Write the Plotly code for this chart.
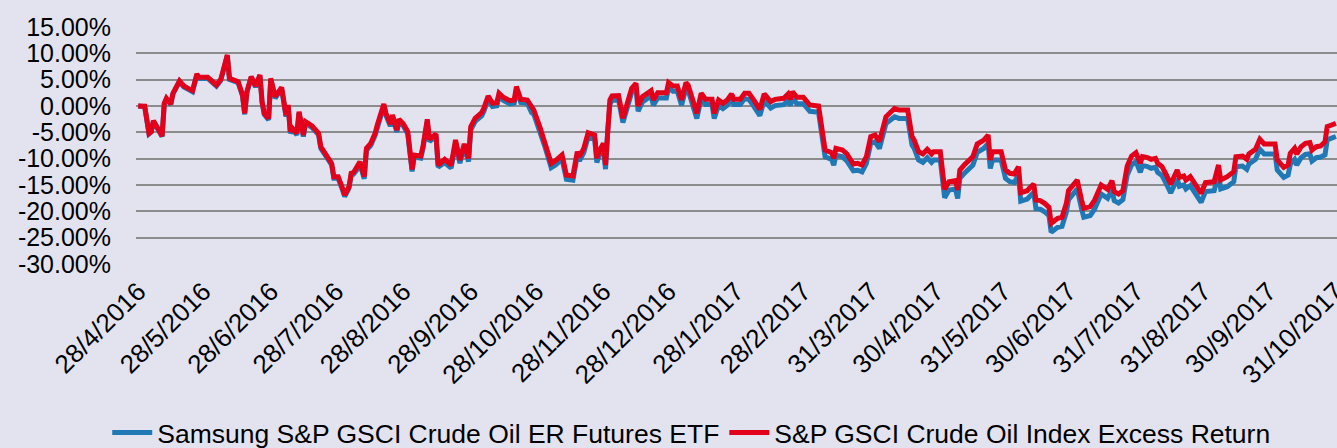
import pandas as pd
import plotly.graph_objects as go

start_date = "2016-04-28"

days_since_start = [
    0, 3, 5, 6, 7, 9, 11, 12, 13, 15, 16, 19, 21, 23, 25, 27, 28, 32, 34, 36, 38, 39, 41, 42, 44, 46, 48, 49, 50,
    52, 54, 56, 57, 58, 60, 61, 63, 64, 66, 68, 69, 70, 71, 73, 74, 76, 77, 80, 82, 83, 84, 87, 89, 90, 92, 94,
    95, 97, 98, 99, 101, 102, 104, 105, 107, 109, 110, 113, 114, 116, 117, 119, 120, 122, 124, 125, 126, 127,
    130, 131, 133, 134, 137, 138, 140, 141, 144, 146, 148, 150, 152, 153, 155, 158, 159, 161, 163, 165, 166,
    168, 171, 173, 174, 176, 179, 181, 182, 185, 187, 190, 192, 195, 197, 200, 202, 203, 205, 207, 210, 211,
    212, 214, 215, 216, 217, 218, 221, 223, 225, 227, 229, 230, 232, 234, 236, 237, 239, 243, 244, 246, 248,
    250, 252, 253, 255, 257, 259, 261, 264, 265, 267, 269, 271, 273, 274, 277, 279, 281, 283, 286, 288, 291,
    293, 297, 299, 300, 301, 303, 306, 308, 309, 313, 315, 316, 319, 320, 321, 324, 326, 329, 331, 333, 335,
    337, 339, 341, 343, 344, 348, 350, 354, 356, 357, 359, 361, 363, 365, 366, 369, 370, 371, 373, 376, 377,
    378, 380, 383, 384, 386, 389, 391, 392, 393, 397, 399, 401, 403, 405, 406, 409, 410, 412, 413, 415, 417,
    419, 420, 423, 425, 427, 428, 431, 432, 434, 435, 438, 440, 443, 445, 446, 448, 449, 451, 453, 455, 457,
    459, 461, 462, 464, 466, 468, 469, 471, 473, 475, 478, 479, 481, 482, 484, 487, 489, 491, 493, 495, 497,
    498, 501, 504, 505, 508, 510, 511, 514, 516, 518, 523, 524, 527, 529, 530, 532, 533, 535, 537, 539, 540,
    542, 544, 546, 547, 549, 551,
]

index_er = [
    0.00, -0.05, -5.19, -4.87, -2.78, -4.24, -5.70, 0.51, 1.46, 0.38, 2.41, 4.75, 3.80, 3.35, 2.91, 6.08, 5.44,
    5.44, 4.81, 3.99, 5.06, 6.52, 9.68, 5.25, 4.94, 4.62, 2.09, -1.39, 2.72, 5.57, 3.80, 5.89, 0.82, -1.39,
    -2.34, 5.25, 1.77, 2.41, 3.54, -1.71, 0.19, -4.87, -4.24, -5.19, -1.08, -5.51, -2.97, -3.80, -4.87, -5.19,
    -7.72, -9.62, -10.89, -13.42, -13.42, -15.63, -16.90, -15.32, -12.78, -12.66, -11.52, -10.57, -13.42,
    -8.04, -7.09, -5.19, -3.61, 0.38, -1.39, -3.42, -1.71, -4.56, -2.53, -3.42, -4.87, -8.99, -12.03, -9.30,
    -9.49, -7.72, -2.53, -6.33, -5.32, -11.20, -10.25, -10.13, -11.20, -6.46, -10.25, -7.22, -9.94, -3.92,
    -2.34, -1.27, -0.44, 1.90, 0.51, 0.63, 2.41, 1.65, 1.01, 1.14, 3.67, 1.27, 1.14, -0.44, -0.76, -4.24,
    -6.77, -10.89, -10.38, -9.30, -13.10, -13.29, -8.67, -9.62, -8.04, -5.06, -5.51, -9.94, -8.67, -7.09,
    -11.20, -3.92, 1.14, 1.90, 1.96, -2.34, 0.82, 3.35, 4.30, 0.00, 1.77, 2.41, 2.91, 1.14, 2.53, 2.53, 4.43,
    3.80, 3.80, 1.14, 4.43, 3.99, 1.14, -1.39, 2.41, 1.27, 1.27, -1.39, 1.14, 0.51, 1.14, 2.28, 1.27, 1.27,
    2.41, 2.41, 1.27, -0.63, 2.28, 0.82, 1.27, 1.46, 2.28, 1.27, 2.72, 1.65, 1.65, 0.82, 0.19, 0.00, -5.51,
    -8.35, -8.86, -9.94, -8.04, -8.35, -9.11, -11.01, -10.89, -11.20, -9.62, -5.82, -5.51, -6.77, -3.61,
    -2.03, -0.44, -0.76, -0.76, -5.82, -6.46, -8.67, -9.11, -8.23, -9.11, -8.67, -8.67, -11.84, -15.82,
    -14.37, -14.18, -15.95, -12.15, -11.20, -10.13, -9.62, -7.22, -6.46, -5.51, -10.25, -8.67, -8.67, -12.15,
    -12.78, -12.91, -11.52, -16.46, -16.08, -15.63, -14.81, -17.85, -17.97, -18.48, -19.24, -22.28, -21.33,
    -21.14, -18.48, -16.08, -14.37, -14.05, -17.85, -19.43, -19.11, -17.85, -15.00, -15.44, -15.82, -14.18,
    -16.27, -16.71, -16.08, -11.39, -9.49, -8.86, -10.89, -9.62, -9.75, -10.13, -9.94, -10.89, -11.52,
    -13.10, -14.81, -12.15, -13.54, -13.29, -14.05, -13.42, -15.32, -16.58, -14.56, -14.37, -14.37, -11.20,
    -14.05, -13.42, -12.47, -9.62, -9.49, -10.13, -9.11, -8.23, -6.33, -7.22, -7.22, -10.25, -11.65, -11.20,
    -8.99, -8.04, -9.11, -7.72, -7.09, -6.96, -8.35, -7.72, -7.59, -6.77, -3.92, -3.61, -3.29,
]

samsung_etf = [
    0.00, -0.15, -5.29, -4.97, -2.88, -4.34, -5.80, 0.41, 1.36, 0.28, 2.31, 4.65, 3.60, 3.15, 2.71, 5.88, 5.24,
    5.24, 4.61, 3.79, 4.86, 6.32, 9.48, 5.05, 4.74, 4.42, 1.89, -1.59, 2.52, 5.37, 3.60, 5.69, 0.62, -1.59,
    -2.64, 4.95, 1.47, 2.11, 3.24, -2.01, -0.11, -5.17, -4.54, -5.49, -1.38, -5.81, -3.27, -4.10, -5.17, -5.49,
    -8.02, -9.92, -11.19, -13.72, -13.72, -15.93, -17.20, -15.62, -13.08, -12.96, -11.92, -10.97, -13.82,
    -8.44, -7.49, -5.59, -4.01, -0.02, -1.79, -3.82, -2.11, -4.96, -2.93, -3.82, -5.27, -9.39, -12.43, -9.70,
    -9.89, -8.12, -2.93, -6.73, -5.72, -11.60, -10.85, -10.73, -11.80, -7.06, -10.85, -7.82, -10.54, -4.52,
    -2.94, -1.87, -1.04, 1.30, -0.09, 0.03, 1.81, 1.05, 0.41, 0.54, 3.07, 0.67, 0.54, -1.24, -1.56, -5.04,
    -7.57, -11.69, -11.18, -10.10, -13.90, -14.09, -9.47, -10.42, -8.84, -5.86, -6.31, -10.74, -9.47, -7.89,
    -12.00, -4.72, 0.34, 1.10, 1.16, -3.14, 0.02, 2.55, 3.50, -1.00, 0.77, 1.41, 1.91, 0.14, 1.53, 1.53, 3.43,
    2.80, 2.80, 0.14, 3.43, 2.99, 0.14, -2.39, 1.41, 0.27, 0.27, -2.39, 0.14, -0.49, 0.14, 1.28, 0.27, 0.27,
    1.41, 1.21, 0.07, -1.83, 1.08, -0.38, 0.07, 0.26, 1.08, 0.07, 1.52, 0.45, 0.45, -0.38, -1.01, -1.20, -6.81,
    -9.65, -10.16, -11.24, -9.34, -9.65, -10.41, -12.31, -12.19, -12.50, -10.92, -7.12, -6.81, -8.07, -4.91,
    -3.33, -2.04, -2.36, -2.36, -7.42, -8.06, -10.27, -10.71, -9.83, -10.71, -10.27, -10.27, -13.44, -17.42,
    -15.97, -15.78, -17.55, -13.75, -12.80, -11.73, -11.22, -8.82, -8.06, -7.11, -11.85, -10.27, -10.27, -13.75,
    -14.38, -14.51, -13.12, -18.06, -17.68, -17.23, -16.41, -19.45, -19.57, -20.08, -20.84, -23.98, -23.03,
    -22.84, -20.18, -17.78, -16.07, -15.75, -19.55, -21.13, -20.81, -19.55, -16.70, -17.14, -17.52, -15.88,
    -17.97, -18.41, -17.78, -13.09, -11.19, -10.56, -12.59, -11.32, -11.45, -11.83, -11.64, -12.59, -13.22,
    -14.80, -16.51, -13.85, -15.24, -14.99, -15.75, -15.12, -17.02, -18.28, -16.26, -16.07, -16.07, -12.90,
    -15.75, -15.32, -14.37, -11.52, -11.39, -12.03, -11.01, -10.13, -8.23, -9.12, -9.12, -12.15, -13.55, -13.10,
    -11.09, -10.14, -11.21, -9.82, -9.19, -9.06, -10.45, -9.82, -9.69, -9.27, -6.42, -6.11, -5.79,
]

x_tick_dates = [
    "2016-04-28", "2016-05-28", "2016-06-28", "2016-07-28", "2016-08-28", "2016-09-28", "2016-10-28",
    "2016-11-28", "2016-12-28", "2017-01-28", "2017-02-28", "2017-03-31", "2017-04-30", "2017-05-31",
    "2017-06-30", "2017-07-31", "2017-08-31", "2017-09-30", "2017-10-31",
]
x_tick_labels = [
    "28/4/2016", "28/5/2016", "28/6/2016", "28/7/2016", "28/8/2016", "28/9/2016", "28/10/2016",
    "28/11/2016", "28/12/2016", "28/1/2017", "28/2/2017", "31/3/2017", "30/4/2017", "31/5/2017",
    "30/6/2017", "31/7/2017", "31/8/2017", "30/9/2017", "31/10/2017",
]
y_tick_values = [15, 10, 5, 0, -5, -10, -15, -20, -25, -30]
y_tick_labels = ["15.00%", "10.00%", "5.00%", "0.00%", "-5.00%", "-10.00%", "-15.00%",
                 "-20.00%", "-25.00%", "-30.00%"]

series_names = ["Samsung S&P GSCI Crude Oil ER Futures ETF", "S&P GSCI Crude Oil Index Excess Return"]

dates = [pd.Timestamp(start_date) + pd.Timedelta(days=d) for d in days_since_start]

BG = "#E3E3F0"
FONT = "Liberation Sans, Arial, sans-serif"

fig = go.Figure()
fig.add_trace(go.Scatter(x=dates, y=samsung_etf, mode="lines", name=series_names[0],
                         line=dict(color="#2079B5", width=5)))
fig.add_trace(go.Scatter(x=dates, y=index_er, mode="lines", name=series_names[1],
                         line=dict(color="#E2001A", width=5)))

fig.update_layout(
    width=1337, height=448,
    paper_bgcolor=BG, plot_bgcolor=BG,
    margin=dict(l=136, r=0, t=27, b=184, autoexpand=False),
    font=dict(family=FONT, color="black", size=25),
    showlegend=True,
    legend=dict(orientation="h", xref="container", yref="container", x=0.517, y=0.034,
                xanchor="center", yanchor="middle", font=dict(size=26.5), bgcolor="rgba(0,0,0,0)",
                itemwidth=40, tracegroupgap=0),
    xaxis=dict(type="date", range=["2016-04-27", "2017-10-31 12:00"], tickvals=x_tick_dates,
               ticktext=x_tick_labels, tickangle=-45, showgrid=False, zeroline=False,
               showline=False, ticks="", ticklabelstandoff=6, ticklabeloverflow="allow",
               tickfont=dict(size=26)),
    yaxis=dict(range=[-30, 15], tickvals=y_tick_values, ticktext=y_tick_labels, showgrid=True,
               gridcolor="#8C8C8C", gridwidth=1.5, zeroline=False, showline=False, ticks="",
               ticklabelstandoff=24, tickfont=dict(size=25)),
)

fig.write_html(
    "out.html",
    config={"displayModeBar": False},
    post_script="document.body.style.margin='0';document.body.style.overflow='hidden';",
)
